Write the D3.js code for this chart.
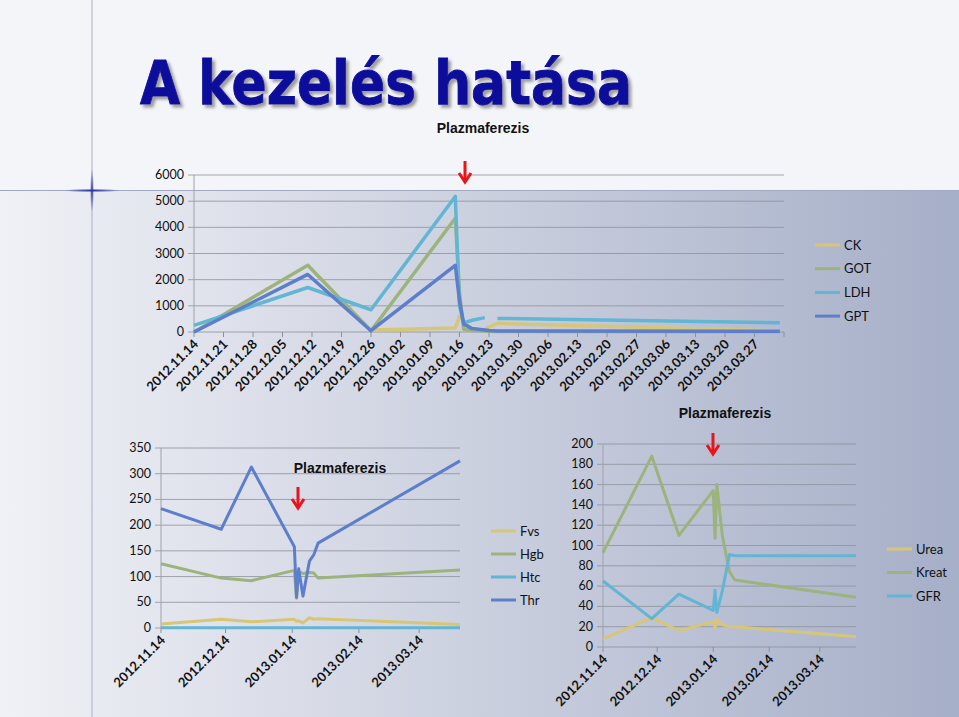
<!DOCTYPE html>
<html><head><meta charset="utf-8">
<script src="https://cdn.jsdelivr.net/npm/d3@7"></script>
<style>body{margin:0;overflow:hidden}svg{display:block}</style>
</head><body>
<script>
// ---- data ----
const topDates = ["2012-11-14","2012-12-11","2012-12-26","2013-01-15","2013-01-16","2013-01-17","2013-01-19","2013-01-22","2013-01-23","2013-01-25","2013-04-02"];
const ckVals  = [null,null,80,150,600,430,80,80,200,330,40];
const gotVals = [0,2550,50,4350,1500,100,60,40,30,20,10];
const ldhVals = [250,1700,850,5180,1000,350,450,550,null,520,350];
const gptVals = [0,2200,50,2550,1200,300,130,80,60,40,30];
const topTicks = [0,1000,2000,3000,4000,5000,6000];

const blDates = ["2012-11-14","2012-12-12","2012-12-26","2013-01-15","2013-01-16","2013-01-17","2013-01-19","2013-01-22","2013-01-24","2013-01-26","2013-04-02"];
const fvsVals = [8,17,12,17,13,14,10,20,17,18,7];
const hgbVals = [125,97,92,112,58,110,106,108,107,97,113];
const htcVals = [0.4,0.4,0.4,0.4,0.4,0.4,0.4,0.4,0.4,0.4,0.4];
const thrVals = [232,192,313,158,60,115,62,130,142,165,325];
const blTicks = [0,50,100,150,200,250,300,350];

const brDates = ["2012-11-14","2012-12-11","2012-12-26","2013-01-14","2013-01-15","2013-01-16","2013-01-19","2013-01-23","2013-01-26","2013-04-03"];
const ureaVals  = [8,29,16,25,19,27,22,20,20,10];
const kreatVals = [93,188,110,154,107,160,110,74,66,49];
const gfrVals   = [65,28,52,36,56,34,55,91,90,90];
const brTicks = [0,20,40,60,80,100,120,140,160,180,200];

const monthTicks = ["2012-11-14","2012-12-14","2013-01-14","2013-02-14","2013-03-14"];

const C = {yel:"#d8c677", grn:"#9db37c", lbl:"#62b5d3", blu:"#5d7ecb"};
const parse = d3.timeParse("%Y-%m-%d");
const fmt = d3.timeFormat("%Y.%m.%d");

const svg = d3.select("body").append("svg").attr("width",959).attr("height",717);
const defs = svg.append("defs");
const g1 = defs.append("linearGradient").attr("id","bg");
g1.append("stop").attr("offset","0").attr("stop-color","#f0f1f6");
g1.append("stop").attr("offset","1").attr("stop-color","#a6afc8");
const rg = defs.append("radialGradient").attr("id","glow");
rg.append("stop").attr("offset","0").attr("stop-color","#2a33a8");
rg.append("stop").attr("offset","1").attr("stop-color","#2a33a8").attr("stop-opacity",0);
const f = defs.append("filter").attr("id","sh");
f.append("feDropShadow").attr("dx",3).attr("dy",3).attr("stdDeviation",1.5).attr("flood-color","#777").attr("flood-opacity",0.7);

svg.append("rect").attr("width",959).attr("height",717).attr("fill","#f4f5f9");
svg.append("rect").attr("y",191).attr("width",959).attr("height",526).attr("fill","url(#bg)");
svg.append("line").attr("x1",92).attr("x2",92).attr("y1",0).attr("y2",717).attr("stroke","#a9aec6").attr("stroke-width",1);
svg.append("line").attr("x1",0).attr("x2",959).attr("y1",190.5).attr("y2",190.5).attr("stroke","#a3a9c4").attr("stroke-width",1.2);
svg.append("ellipse").attr("cx",92).attr("cy",190.5).attr("rx",28).attr("ry",2).attr("fill","url(#glow)");
svg.append("ellipse").attr("cx",92).attr("cy",190.5).attr("rx",2).attr("ry",22).attr("fill","url(#glow)");

svg.append("text").attr("x",140).attr("y",104).attr("textLength",492).attr("lengthAdjust","spacingAndGlyphs")
  .attr("font-family","DejaVu Sans").attr("font-weight","bold").attr("font-size",61)
  .attr("fill","#0d0d9c").attr("stroke","#0d0d9c").attr("stroke-width",1).attr("filter","url(#sh)").text("A kezelés hatása");

const font = "Lato";

function arrow(x, y){
  const a = svg.append("g").attr("transform",`translate(${x},${y})`);
  a.append("line").attr("x1",0).attr("x2",0).attr("y1",0).attr("y2",20).attr("stroke","#e8141a").attr("stroke-width",3);
  a.append("path").attr("d","M-6,12 L0,21 L6,12").attr("fill","none").attr("stroke","#e8141a").attr("stroke-width",3);
}
function title(x, y){
  svg.append("text").attr("x",x).attr("y",y).attr("text-anchor","middle").attr("font-family","Liberation Sans")
    .attr("font-weight","bold").attr("font-size",14).attr("fill","#111").text("Plazmaferezis");
}

function chart(o){
  const x = d3.scaleTime().domain(o.xdom.map(parse)).range([o.x0,o.x1]);
  const y = d3.scaleLinear().domain([0,o.ymax]).range([o.y0,o.y1]);
  const g = svg.append("g").attr("font-family",font);
  g.selectAll(".grid").data(o.yticks).join("line")
    .attr("x1",o.x0-6).attr("x2",o.x1).attr("y1",d=>y(d)).attr("y2",d=>y(d))
    .attr("stroke","#8c909a").attr("stroke-width",0.8);
  g.append("line").attr("x1",o.x0).attr("x2",o.x0).attr("y1",o.y0).attr("y2",o.y1).attr("stroke","#9ea2ab");
  g.selectAll(".yl").data(o.yticks).join("text")
    .attr("x",o.x0-10).attr("y",d=>y(d)+4).attr("text-anchor","end").attr("font-size",12.5).attr("fill","#111").text(d=>d);
  const xt = o.xticks.map(parse);
  g.selectAll(".xt").data(xt.concat(o.extraTick?[parse(o.xdom[1])]:[])).join("line")
    .attr("x1",d=>x(d)).attr("x2",d=>x(d)).attr("y1",o.y0).attr("y2",o.y0+5).attr("stroke","#8c909a");
  g.selectAll(".xl").data(xt).join("text")
    .attr("transform",d=>`translate(${x(d)+5},${o.y0+13}) rotate(-45)`)
    .attr("text-anchor","end").attr("font-size",13).attr("font-weight","bold").attr("fill","#111").text(d=>fmt(d));
  const dates = o.dates.map(parse);
  o.series.forEach(s=>{
    const line = d3.line().defined(d=>d[1]!=null).x(d=>x(d[0])).y(d=>y(d[1]));
    g.append("path").datum(dates.map((d,i)=>[d,s.vals[i]])).attr("d",line)
      .attr("fill","none").attr("stroke",s.color).attr("stroke-width",o.lw).attr("stroke-linejoin","round");
  });
  o.series.forEach((s,i)=>{
    const ly = o.ly + i*o.lstep;
    g.append("line").attr("x1",o.lx).attr("x2",o.lx+25).attr("y1",ly).attr("y2",ly).attr("stroke",s.color).attr("stroke-width",3);
    g.append("text").attr("x",o.lx+29).attr("y",ly+4.5).attr("font-size",13).attr("fill","#111").text(s.name);
  });
}

const weekly = d3.timeDay.range(parse("2012-11-14"), parse("2013-03-28"), 7).map(d=>d3.timeFormat("%Y-%m-%d")(d));

chart({xdom:["2012-11-14","2013-04-03"], x0:194, x1:784, y0:332, y1:175, ymax:6000, yticks:topTicks,
  xticks:weekly, extraTick:true, dates:topDates, lw:3.5, lx:815, ly:245, lstep:23.7,
  series:[{name:"CK",vals:ckVals,color:C.yel},{name:"GOT",vals:gotVals,color:C.grn},
          {name:"LDH",vals:ldhVals,color:C.lbl},{name:"GPT",vals:gptVals,color:C.blu}]});

chart({xdom:["2012-11-14","2013-04-02"], x0:161, x1:460, y0:628, y1:448, ymax:350, yticks:blTicks,
  xticks:monthTicks, dates:blDates, lw:3, lx:491, ly:531, lstep:23,
  series:[{name:"Fvs",vals:fvsVals,color:C.yel},{name:"Hgb",vals:hgbVals,color:C.grn},
          {name:"Htc",vals:htcVals,color:C.lbl},{name:"Thr",vals:thrVals,color:C.blu}]});

chart({xdom:["2012-11-14","2013-04-03"], x0:603, x1:856, y0:647, y1:444, ymax:200, yticks:brTicks,
  xticks:monthTicks, dates:brDates, lw:3, lx:887, ly:549, lstep:23.5,
  series:[{name:"Urea",vals:ureaVals,color:C.yel},{name:"Kreat",vals:kreatVals,color:C.grn},
          {name:"GFR",vals:gfrVals,color:C.lbl}]});

title(483,133); arrow(465,161);
title(340,473); arrow(298,487);
title(725,418); arrow(713,433);
</script>
</body></html>
